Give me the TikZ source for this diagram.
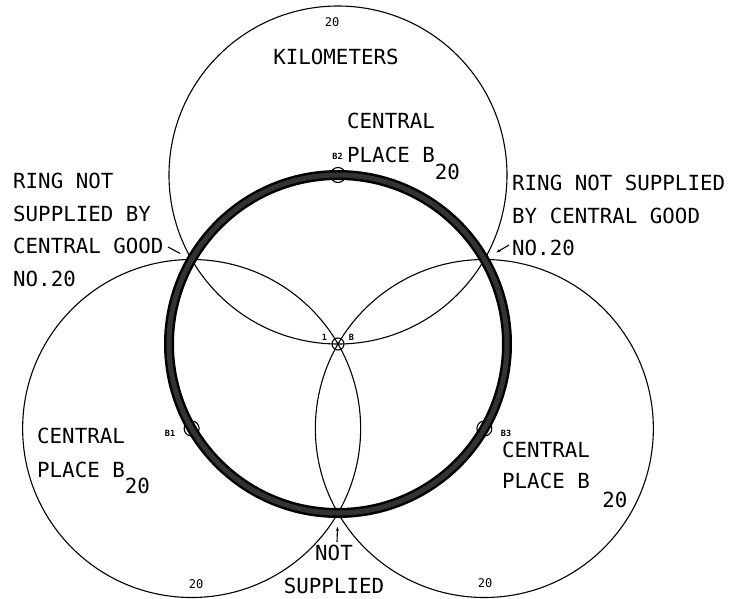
\documentclass[tikz,border=0pt]{standalone}
\usepackage{fontspec}
\setmonofont{DejaVu Sans Mono}
\usetikzlibrary{arrows.meta}

\begin{document}
\begin{tikzpicture}[x=1pt,y=-1pt,>={Stealth[length=4pt,width=3pt]},
 thinc/.style={line width=1.1pt},
 lab/.style={inner sep=0pt,align=left,font=\ttfamily\fontsize{20.8}{32.5}\selectfont},
 num/.style={inner sep=0pt,font=\ttfamily\fontsize{12}{12}\selectfont},
 nm/.style={inner sep=0pt,font=\ttfamily\bfseries\fontsize{8.5}{9}\selectfont}]
\useasboundingbox (0,0) rectangle (732,598);
\coordinate (o) at (338,344);
\path (o) ++(270:169) coordinate (c2) (o) ++(150:169) coordinate (c1) (o) ++(30:169) coordinate (c3);
\path (o) ++(210:169) coordinate (xl) (o) ++(330:169) coordinate (xr) (o) ++(90:169) coordinate (xb);
% market areas
\draw[thinc] (c2) circle[radius=169pt];
\draw[thinc] (c1) circle[radius=169pt];
\draw[thinc] (c3) circle[radius=169pt];
\draw[thinc] (c1) circle[radius=7.5pt];
\draw[thinc] (c2) circle[radius=7.5pt];
\draw[thinc] (c3) circle[radius=7.5pt];
\draw[thinc] (o) circle[radius=6pt];
% ring
\draw[line width=10pt] (o) circle[radius=169pt];
\draw[line width=5pt,black!80] (o) circle[radius=169pt];
% labels
\node[num] (n2) at (332,22) {20};
\node[num] (n1) at (196,584) {20};
\node[num] (n3) at (485,583) {20};
\node[lab,anchor=north] (km) at (336,49) {KILOMETERS};
\node[lab,anchor=north west] (pl2) at (347,113) {CENTRAL\\[1.5pt]PLACE B\raisebox{-17pt}{20}};
\node[lab,anchor=north west] (pl1) at (37,428) {CENTRAL\\[1.5pt]PLACE B\raisebox{-16pt}{20}};
\node[lab,anchor=north west] (pl3) at (502,442) {CENTRAL\\[-1.5pt]PLACE B \raisebox{-19pt}{20}};
\node[lab,anchor=north west] (ringl) at (13,173) {RING NOT\\SUPPLIED BY\\CENTRAL GOOD\\NO.20};
\node[lab,anchor=north west] (ringr) at (512,175) {RING NOT SUPPLIED\\BY CENTRAL GOOD\\NO.20};
\node[lab,align=center,anchor=north] (ns) at (334,545) {NOT\\SUPPLIED};
\node[nm] (b2) at (337.5,156) {B2};
\node[nm] (b1) at (170,433) {B1};
\node[nm] (b3) at (506,433) {B3};
\node[nm] (bo1) at (324.5,337) {1};
\node[nm] (bo2) at (351.5,337) {B};
% pointers
\coordinate (al) at (168,247);
\coordinate (ar) at (509,245);
\coordinate (ab) at (337,542);
\draw[thinc,shorten >=13pt] (al) -- (xl);
\draw[thinc,->,shorten >=14pt] (ar) -- (xr);
\draw[thinc,->,shorten >=14pt] (ab) -- (xb);
\end{tikzpicture}
\end{document}
